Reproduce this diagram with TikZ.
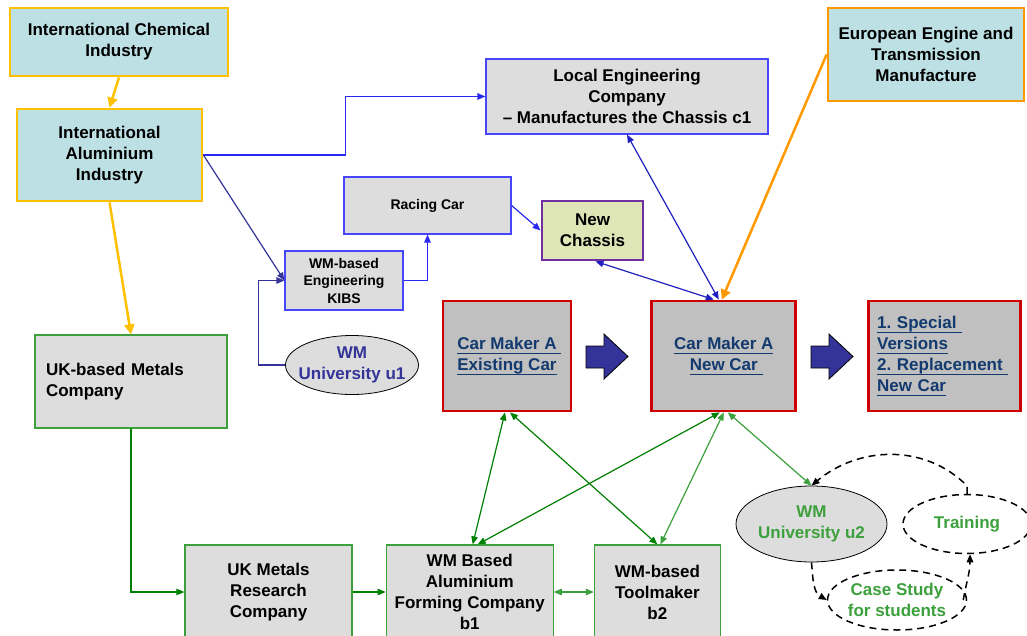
\documentclass[tikz,border=0pt]{standalone}
\usepackage{fontspec}
\setmainfont{Liberation Sans}
\usepackage{tikz}
\usetikzlibrary{positioning,arrows.meta,shapes.geometric}
\frenchspacing

\newlength{\allepituus}
\newcommand{\alle}[1]{\leavevmode\settowidth{\allepituus}{#1}\rlap{\rule[-4pt]{\allepituus}{1.1pt}}#1}

\definecolor{kulta}{RGB}{255,192,0}
\definecolor{oranssi}{RGB}{255,153,0}
\definecolor{syaani}{RGB}{189,224,228}
\definecolor{harmaa}{RGB}{221,221,221}
\definecolor{tumma}{RGB}{192,192,192}
\definecolor{puna}{RGB}{204,0,0}
\definecolor{sini}{RGB}{40,40,240}
\definecolor{reunasini}{RGB}{70,70,255}
\definecolor{indigo}{RGB}{51,51,153}
\definecolor{tvihr}{RGB}{0,128,0}
\definecolor{vvihr}{RGB}{60,160,60}
\definecolor{linkki}{RGB}{18,58,110}
\definecolor{violetti}{RGB}{112,48,160}
\definecolor{oliivi}{RGB}{222,230,184}

\begin{document}
\begin{tikzpicture}[x=1pt, y=1pt, >={Triangle[length=8pt,width=6.5pt]},
    font=\bfseries\fontsize{17}{21}\selectfont,
    laatikko/.style={rectangle,draw,align=center,inner sep=0pt},
    teol/.style={laatikko,fill=syaani,draw=kulta,line width=2.8pt},
    insin/.style={laatikko,fill=harmaa,draw=reunasini,line width=1.2pt},
    metalli/.style={laatikko,fill=harmaa,draw=vvihr,line width=1.2pt},
    autot/.style={laatikko,fill=tumma,draw=puna,line width=2.8pt,text=linkki,minimum height=110pt},
    pieni/.style={font=\bfseries\fontsize{14}{17.5}\selectfont},
    yo/.style={ellipse,draw,fill=harmaa,align=center,line width=0.8pt,inner xsep=-7pt,inner ysep=0pt},
    katko/.style={ellipse,draw,align=center,dash pattern=on 7pt off 5pt,line width=1.5pt,inner xsep=-7pt,inner ysep=0pt,text=vvihr},
    paksu/.style={-{Triangle[length=10pt,width=10pt]},line width=2.5pt},
    ohut/.style={->,line width=1.2pt},
    katkonuoli/.style={->,line width=1.5pt,dash pattern=on 7pt off 5pt},
    siirto/.style={fill=indigo,draw=black,line width=0.8pt}]

\useasboundingbox (0,0) rectangle (1027,-636);

\node[teol,minimum width=218pt,minimum height=68pt] (NChem) at (119,-42) {International Chemical\\Industry};
\node[teol,minimum width=185pt,minimum height=92pt] (NAlu) at (109.5,-155) {International\\Aluminium\\Industry};
\node[teol,draw=oranssi,minimum width=196pt,minimum height=93pt] (NEuro) at (926,-54.5) {European Engine and\\Transmission\\Manufacture};
\node[insin,minimum width=282pt,minimum height=75pt] (NLoc) at (627,-96.5) {Local Engineering\\Company\\\textendash\ Manufactures the Chassis c1};
\node[insin,pieni,minimum width=167pt,minimum height=57pt] (NRace) at (427.5,-205.5) {Racing Car};
\node[laatikko,fill=oliivi,draw=violetti,line width=2.8pt,minimum width=101pt,minimum height=59pt] (NChas) at (592.5,-230.5) {New\\Chassis};
\node[insin,pieni,minimum width=118pt,minimum height=59pt] (NKibs) at (344,-280.5) {WM-based\\Engineering\\KIBS};
\node[yo,text=indigo,minimum width=133pt,minimum height=59pt] (NU1) at (352,-365) {WM\\University u1};
\node[metalli,align=left,text width=170pt,inner xsep=11pt,minimum height=93pt] (NUKM) at (131,-381.5) {UK-based Metals\\Company};

\node[autot,minimum width=128pt] (NOld) at (507,-356) {\alle{Car Maker A\ }\\\alle{Existing Car}};
\node[autot,minimum width=144pt] (NNew) [right=78pt of NOld] {\alle{Car Maker A}\\\alle{New Car\ }};
\node[autot,minimum width=152pt,align=left,text width=135pt] (NVer) [right=70pt of NNew] {\alle{1. Special\ }\\\alle{Versions}\\\alle{2. Replacement\ }\\\alle{New Car}};

\node[metalli,minimum width=167pt,minimum height=94pt] (NRes) at (268.5,-592) {UK Metals\\Research\\Company};
\node[metalli,minimum width=167pt,minimum height=94pt] (NB1) [right=33pt of NRes] {WM Based\\Aluminium\\Forming Company\\b1};
\node[metalli,minimum width=126pt,minimum height=94pt] (NB2) [right=40pt of NB1] {WM-based\\Toolmaker\\b2};

\node[yo,text=vvihr,minimum width=151pt,minimum height=76pt] (NU2) at (811.5,-524) {WM\\University u2};
\node[katko,minimum width=128pt,minimum height=59pt] (NTrain) at (967,-524) {Training};
\node[katko,minimum width=139pt,minimum height=60pt] (NCase) at (897,-600) {Case Study\\for students};

% block arrows between the car boxes
\foreach \bx in {586,811}
  \draw[siirto] (\bx,-346) -- ++(18,0) -- ++(0,12) -- ++(24,-22.5) -- ++(-24,-22.5) -- ++(0,11) -- ++(-18,0) -- cycle;

\path[paksu,kulta]
   (NChem.south) edge (NAlu.north)
   (NAlu.south) edge (NUKM.north);
\draw[paksu,oranssi] (NEuro.west) -- ([xshift=-2pt]NNew.north);

\draw[ohut,sini] (NAlu.east) -- ++(142,0) |- (NLoc.west);
\draw[ohut,indigo] (NAlu.east) -- (NKibs.west);
\draw[ohut,indigo] (NU1.west) -- ++(-27,0) |- (NKibs.west);
\draw[ohut,sini] (NKibs.east) -| (NRace.south);
\path[ohut,sini]
   (NRace.east) edge (NChas.west);
\path[ohut,<->,sini!80!black]
   ([xshift=-10pt]NNew.north) edge ([xshift=3pt]NChas.south)
   ([xshift=-5pt]NNew.north) edge (NLoc.south);

\path[ohut,<->,tvihr]
   ([xshift=-2pt]NOld.south) edge ([xshift=3pt]NB1.north)
   ([xshift=3pt]NOld.south) edge (NB2.north)
   ([xshift=-4pt]NNew.south) edge ([xshift=8pt]NB1.north);
\path[ohut,<->,vvihr]
   (NNew.south) edge ([xshift=3pt]NB2.north)
   ([xshift=4pt]NNew.south) edge (NU2.north)
   (NB1.east) edge (NB2.west);
\draw[ohut,tvihr] (NUKM.south) |- (NRes.west);
\path[ohut,tvihr]
   (NRes.east) edge (NB1.west);

% dashed cycle round the second university
\draw[katkonuoli] (NU2.south) to[out=-85,in=150] (NCase.west);
\draw[katkonuoli] ([xshift=-4pt]NCase.east) to[out=80,in=-90] ([xshift=3pt]NTrain.south);
\draw[katkonuoli] (NTrain.north) -- ++(0,8) to[out=135,in=40] (NU2.north);
\end{tikzpicture}
\end{document}
